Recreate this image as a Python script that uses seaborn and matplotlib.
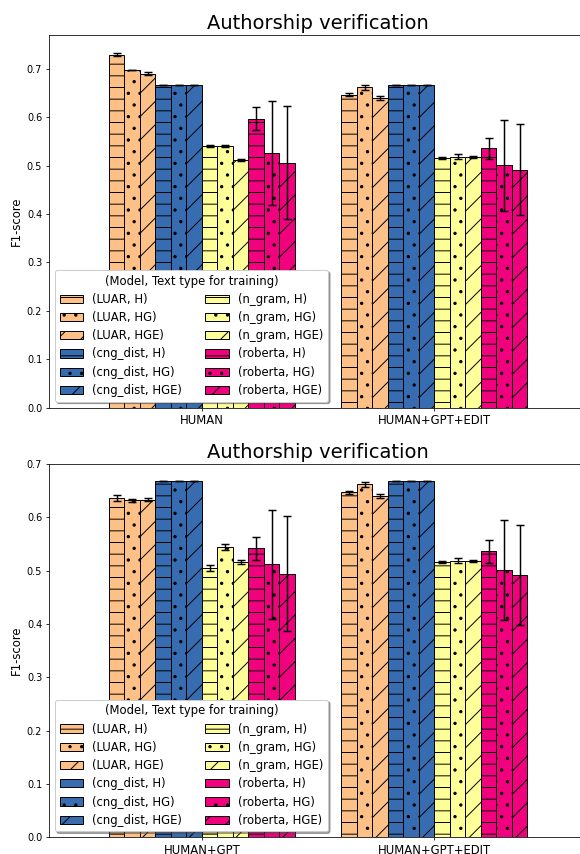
import numpy as np
import pandas as pd
import matplotlib
matplotlib.use("Agg")
import matplotlib.pyplot as plt
import seaborn as sns
from matplotlib.patches import Patch

# ---------------- data ----------------
models = ["LUAR", "cng_dist", "n_gram", "roberta"]
text_types = ["H", "HG", "HGE"]
model_colors = ["#fdc086", "#386cb0", "#ffff99", "#f0027f"]
type_hatches = ["-", ".", "/"]

top_groups = ["HUMAN", "HUMAN+GPT+EDIT"]
bottom_groups = ["HUMAN+GPT", "HUMAN+GPT+EDIT"]

# order: LUAR(H,HG,HGE), cng_dist(...), n_gram(...), roberta(...)
human_mean = [0.730, 0.698, 0.690, 0.667, 0.667, 0.667, 0.541, 0.540, 0.512, 0.597, 0.526, 0.506]
human_err = [0.003, 0.001, 0.003, 0.0, 0.0, 0.0, 0.002, 0.002, 0.002, 0.024, 0.108, 0.117]

edit_mean = [0.647, 0.662, 0.640, 0.668, 0.668, 0.668, 0.516, 0.519, 0.518, 0.536, 0.501, 0.492]
edit_err = [0.003, 0.005, 0.004, 0.0, 0.0, 0.0, 0.002, 0.005, 0.002, 0.022, 0.094, 0.094]

gpt_mean = [0.636, 0.632, 0.633, 0.668, 0.668, 0.668, 0.505, 0.544, 0.516, 0.542, 0.512, 0.494]
gpt_err = [0.005, 0.003, 0.003, 0.0, 0.0, 0.0, 0.005, 0.006, 0.004, 0.022, 0.102, 0.108]

labels = [f"({m}, {t})" for m in models for t in text_types]


def draw(ax, groups, means, errs, ymax):
    rows = []
    for g, mvals in zip(groups, means):
        for lab, v in zip(labels, mvals):
            rows.append({"group": g, "label": lab, "value": v})
    df = pd.DataFrame(rows)
    palette = {lab: model_colors[i // 3] for i, lab in enumerate(labels)}
    sns.barplot(data=df, x="group", y="value", hue="label", order=groups,
                hue_order=labels, palette=palette, errorbar=None, width=0.8,
                saturation=1, edgecolor="black", linewidth=1, legend=False, ax=ax)
    bars = sorted(ax.patches, key=lambda p: p.get_x())
    n = len(labels)
    for idx, bar in enumerate(bars):
        gi, hi = idx // n, idx % n
        bar.set_hatch(type_hatches[hi % 3])
        x = bar.get_x() + bar.get_width() / 2
        ax.errorbar(x, bar.get_height(), yerr=errs[gi][hi], fmt="none",
                    ecolor="black", capsize=4, elinewidth=1.5, capthick=1.5)
    handles = [Patch(facecolor=model_colors[i // 3], edgecolor="black",
                     hatch=type_hatches[i % 3], label=lab)
               for i, lab in enumerate(labels)]
    ax.legend(handles=handles, ncol=2, loc="lower left",
              title="(Model, Text type for training)", fontsize=12,
              title_fontsize=12, shadow=True, labelspacing=0.45)
    ax.set_title("Authorship verification", fontsize=20)
    ax.set_ylabel("F1-score", fontsize=12)
    ax.set_xlabel("")
    ax.tick_params(axis="x", labelsize=12)
    ax.tick_params(axis="y", labelsize=10)
    ax.set_xlim(-0.657, 1.656)
    ax.set_ylim(0, ymax)


fig = plt.figure(figsize=(580 / 70, 854 / 70), dpi=70)
ax1 = fig.add_axes([49 / 580, 1 - 407.5 / 854, 538 / 580, (407.5 - 34.7) / 854])
ax2 = fig.add_axes([49 / 580, 1 - 837.3 / 854, 538 / 580, (837.3 - 464.0) / 854])

draw(ax1, top_groups, [human_mean, edit_mean], [human_err, edit_err], 0.771)
draw(ax2, bottom_groups, [gpt_mean, edit_mean], [gpt_err, edit_err], 0.70)

fig.savefig("out.png", dpi=70)
